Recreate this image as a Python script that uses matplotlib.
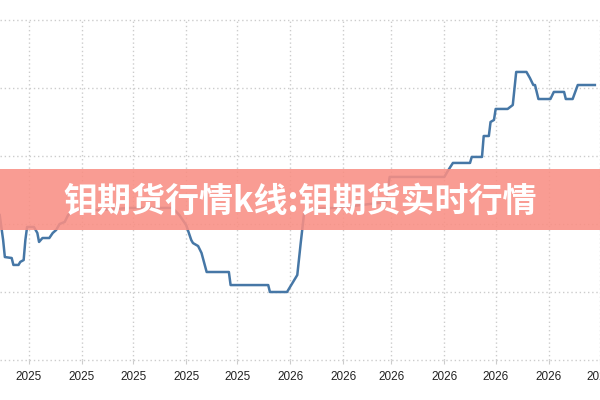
import matplotlib
matplotlib.use("Agg")
import matplotlib.pyplot as plt
import matplotlib.dates as mdates
from matplotlib.patches import Rectangle
import pandas as pd

dates = ["2025-07-15", "2025-07-17", "2025-07-18", "2025-07-22", "2025-07-23", "2025-07-26",
         "2025-07-27", "2025-07-29", "2025-07-30", "2025-07-31", "2025-08-04", "2025-08-06",
         "2025-08-07", "2025-08-09", "2025-08-13", "2025-08-15", "2025-08-17", "2025-08-19",
         "2025-08-22", "2025-08-24", "2025-08-28", "2025-09-11", "2025-09-29", "2025-10-24",
         "2025-10-28", "2025-11-01", "2025-11-04", "2025-11-05", "2025-11-08", "2025-11-10",
         "2025-11-13", "2025-11-26", "2025-11-27", "2025-12-19", "2025-12-20", "2025-12-30",
         "2026-01-05", "2026-01-07", "2026-01-09", "2026-01-11", "2026-01-26", "2026-02-12",
         "2026-02-26", "2026-02-28", "2026-04-01", "2026-04-03", "2026-04-06", "2026-04-16",
         "2026-04-17", "2026-04-23", "2026-04-24", "2026-04-27", "2026-04-28", "2026-04-30",
         "2026-05-01", "2026-05-08", "2026-05-11", "2026-05-13", "2026-05-19", "2026-05-21",
         "2026-05-23", "2026-05-24", "2026-05-26", "2026-06-02", "2026-06-04", "2026-06-10",
         "2026-06-11", "2026-06-15", "2026-06-18", "2026-06-28"]
values = [606.6, 588.2, 575.7, 575.0, 569.9, 569.9,
          572.1, 573.5, 588.2, 597.8, 597.8, 593.4,
          586.8, 589.7, 589.7, 593.4, 595.6, 600.0,
          601.5, 606.6, 610.3, 610.3, 611.8, 611.8,
          606.6, 599.3, 588.2, 586.0, 583.8, 578.7,
          564.7, 564.7, 555.1, 555.1, 550.0, 550.0,
          562.5, 586.0, 608.1, 611.0, 611.8, 614.0,
          616.2, 634.6, 634.6, 639.0, 644.9, 644.9,
          649.3, 649.3, 664.7, 664.7, 675.0, 676.5,
          684.6, 684.6, 687.5, 711.8, 711.8, 707.4,
          702.2, 702.2, 691.9, 691.9, 697.1, 697.1,
          691.9, 691.9, 702.2, 702.2]
tick_dates = ["2025-08-01", "2025-09-01", "2025-10-01", "2025-11-01", "2025-12-01",
              "2026-01-01", "2026-02-01", "2026-03-01", "2026-04-01", "2026-05-01",
              "2026-06-01", "2026-07-01"]
y_grid = [500, 550, 600, 650, 700, 750]
title = "钼期货行情k线:钼期货实时行情"

x = pd.to_datetime(dates)
ticks = pd.to_datetime(tick_dates)

fig = plt.figure(figsize=(6, 4), dpi=100)
ax = fig.add_axes([0, 0.1, 1, 0.85])
ax.plot(x, values, color="#4677a6", linewidth=1.8, zorder=3)

ax.set_xlim(pd.Timestamp("2025-07-15 04:00"), pd.Timestamp("2026-06-28 08:00"))
ax.set_ylim(500, 750)
ax.set_xticks(ticks)
ax.xaxis.set_major_formatter(mdates.DateFormatter("%Y"))
ax.set_yticks(y_grid)
ax.set_yticklabels([])
ax.tick_params(axis="y", length=0)
ax.tick_params(axis="x", length=3, color="#cccccc", pad=5, labelsize=8.5, labelcolor="#222222")
for lab in ax.get_xticklabels():
    lab.set_fontfamily("Liberation Sans")
ax.grid(True, color="#cccccc", linestyle=(0, (1, 2)), linewidth=1.0)
for s in ax.spines.values():
    s.set_visible(False)
ax.set_axisbelow(True)
for gl in ax.get_ygridlines() + ax.get_xgridlines():
    gl.set_clip_on(False)

fig.patches.append(Rectangle((0, 170 / 400), 1, 61 / 400, transform=fig.transFigure,
                             facecolor="#f98f84", alpha=0.88, edgecolor="none", zorder=5))
fig.text(0.5, 1 - 201 / 400, title, ha="center", va="center", color="white",
         fontsize=24.5, fontweight="heavy", family=["Noto Sans CJK SC", "DejaVu Sans"], zorder=6)

fig.savefig("out.png", dpi=100)
